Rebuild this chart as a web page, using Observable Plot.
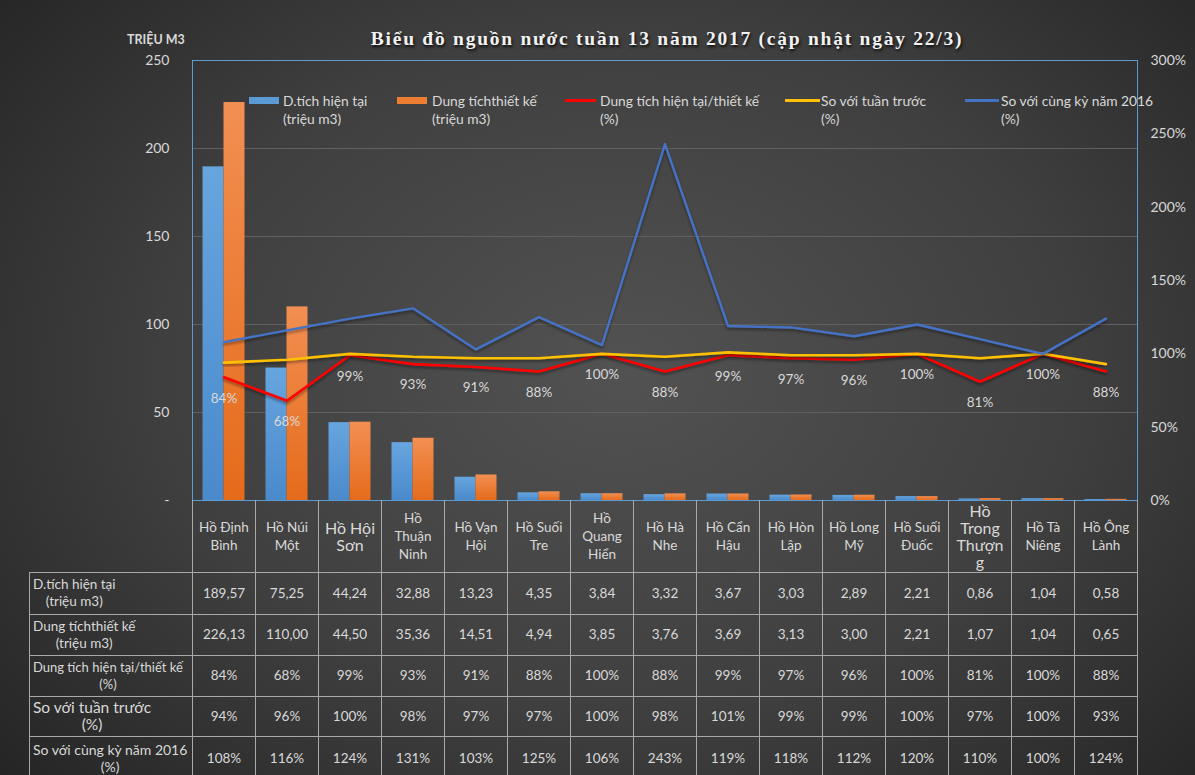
<!DOCTYPE html>
<html><head><meta charset="utf-8">
<script src="https://cdn.jsdelivr.net/npm/d3@7"></script>
<script src="https://cdn.jsdelivr.net/npm/@observablehq/plot@0.6"></script>
<style>
html,body{margin:0;padding:0;background:#2a2a2a;}
#wrap{position:relative;width:1195px;height:775px;overflow:hidden;
 background: radial-gradient(ellipse 70% 80% at 52% 48%, #525252 0%, #3f3f3f 55%, #242424 100%);
 font-family: Lato, "Open Sans", sans-serif; color:#d9d9d9;}
#chart{position:absolute;left:0;top:0;}
#title{position:absolute;left:0;width:1334px;top:28px;text-align:center;font-family:"Liberation Serif","DejaVu Serif",serif;font-weight:bold;font-size:19.5px;letter-spacing:1.75px;color:#f2f2f2;text-shadow:1px 2px 3px rgba(0,0,0,0.85);}
#unit{position:absolute;left:127px;top:32px;font-weight:bold;font-size:12.5px;color:#d9d9d9;}
.lg{position:absolute;top:92px;font-size:13.8px;line-height:18px;color:#d9d9d9;white-space:nowrap;}
.sw{position:absolute;}
table{position:absolute;left:29px;top:500px;border-collapse:collapse;table-layout:fixed;width:1108px;font-size:13.5px;color:#d9d9d9;}
td{border:1px solid #a9a9a9;text-align:center;vertical-align:middle;padding:0;line-height:17px;}
td.rl{text-align:left;padding-left:3px;white-space:nowrap;}
td.rl div{display:inline-block;text-align:center;}
tr.hd td{border-top:none;}
td.blank{border:none;}
</style></head>
<body>
<div id="wrap">
  <div id="chart"></div>
  <div id="title">Biểu đồ nguồn nước tuần 13 năm 2017 (cập nhật ngày 22/3)</div>
  <div id="unit">TRIỆU M3</div>
  <div id="legend"></div>
  <table id="tbl"></table>
</div>
<script>
// ---- data ----
const categories = ["Hồ Định Bình","Hồ Núi Một","Hồ Hội Sơn","Hồ Thuận Ninh","Hồ Vạn Hội","Hồ Suối Tre","Hồ Quang Hiển","Hồ Hà Nhe","Hồ Cẩn Hậu","Hồ Hòn Lập","Hồ Long Mỹ","Hồ Suối Đuốc","Hồ Trong Thượng","Hồ Tà Niêng","Hồ Ông Lành"];
const categoryLabels = ["Hồ Định\nBình","Hồ Núi\nMột","Hồ Hội\nSơn","Hồ\nThuận\nNinh","Hồ Vạn\nHội","Hồ Suối\nTre","Hồ\nQuang\nHiển","Hồ Hà\nNhe","Hồ Cẩn\nHậu","Hồ Hòn\nLập","Hồ Long\nMỹ","Hồ Suối\nĐuốc","Hồ\nTrong\nThượn\ng","Hồ Tà\nNiêng","Hồ Ông\nLành"];
const currentVolume = [189.57,75.25,44.24,32.88,13.23,4.35,3.84,3.32,3.67,3.03,2.89,2.21,0.86,1.04,0.58];
const designVolume = [226.13,110.00,44.50,35.36,14.51,4.94,3.85,3.76,3.69,3.13,3.00,2.21,1.07,1.04,0.65];
const ratioPct = [84,68,99,93,91,88,100,88,99,97,96,100,81,100,88];
const vsLastWeekPct = [94,96,100,98,97,97,100,98,101,99,99,100,97,100,93];
const vsLastYearPct = [108,116,124,131,103,125,106,243,119,118,112,120,110,100,124];
const leftTicks = [0,50,100,150,200,250];
const rightTicksPct = [0,50,100,150,200,250,300];
const seriesNames = [
  ["D.tích hiện tại","(triệu m3)"],
  ["Dung tíchthiết kế","(triệu m3)"],
  ["Dung tích hiện tại/thiết kế","(%)"],
  ["So với tuần trước","(%)"],
  ["So với cùng kỳ năm 2016","(%)"]
];

// ---- styling ----
const C = {blue:"#5b9bd5", orange:"#ed7d31", red:"#ff0000", yellow:"#ffc000", navy:"#4472c4"};
const pctToY = 250/300; // right axis 300% == left axis 250
const rows = categories.map((c,i)=>({cat:c, cur:currentVolume[i], des:designVolume[i], ratio:ratioPct[i], week:vsLastWeekPct[i], year:vsLastYearPct[i]}));
const fmt = v => v.toFixed(2).replace(".", ",");

const chart = Plot.plot({
  width:1195, height:500, marginTop:60, marginBottom:0, marginLeft:192, marginRight:58,
  style:{background:"transparent", color:"#d9d9d9", fontFamily:"Lato, sans-serif", fontSize:"14px", overflow:"visible"},
  x:{domain:categories, padding:0, axis:null},
  y:{domain:[0,250], axis:null},
  marks:[
    Plot.ruleY([50,100,150,200], {stroke:"#606060", strokeWidth:1}),
    Plot.axisY({ticks:leftTicks, tickSize:0, tickPadding:23, tickFormat:d=>d===0?"-":d, fontSize:14, fill:"#d9d9d9"}),
    Plot.axisY({anchor:"right", ticks:rightTicksPct.map(p=>p*pctToY), tickSize:0, tickPadding:13, tickFormat:v=>Math.round(v/pctToY)+"%", fontSize:14, fill:"#d9d9d9"}),
    Plot.barY(rows, {x:"cat", y:"cur", fill:"url(#gBlue)", insetLeft:10.5, insetRight:31.5}),
    Plot.barY(rows, {x:"cat", y:"des", fill:"url(#gOrange)", insetLeft:31.5, insetRight:10.5}),
    Plot.line(rows, {x:"cat", y:d=>d.ratio*pctToY, stroke:C.red, strokeWidth:2.6}),
    Plot.line(rows, {x:"cat", y:d=>d.week*pctToY, stroke:C.yellow, strokeWidth:2.6}),
    Plot.line(rows, {x:"cat", y:d=>d.year*pctToY, stroke:C.navy, strokeWidth:2.4}),
    Plot.text(rows, {x:"cat", y:d=>d.ratio*pctToY, text:d=>d.ratio+"%", dy:21, fill:"#d9d9d9", fontSize:13.5}),
    Plot.frame({stroke:"#5b9bd5", strokeWidth:1})
  ]
});
const svg = d3.select(chart);
const defs = svg.insert("defs", ":first-child");
function grad(id, top, bottom){
  const g = defs.append("linearGradient").attr("id", id).attr("x1",0).attr("y1",0).attr("x2",0).attr("y2",1);
  g.append("stop").attr("offset","0%").attr("stop-color", top);
  g.append("stop").attr("offset","100%").attr("stop-color", bottom);
}
grad("gBlue", "#67a5df", "#4a8acb");
grad("gOrange", "#f28f52", "#e56b1b");
const f = defs.append("filter").attr("id","lineShadow").attr("x","-5%").attr("y","-20%").attr("width","110%").attr("height","140%");
f.append("feDropShadow").attr("dx",0).attr("dy",2).attr("stdDeviation",1.5).attr("flood-color","#000").attr("flood-opacity",0.45);
svg.selectAll("g[aria-label='line']").attr("filter","url(#lineShadow)");
document.getElementById("chart").appendChild(chart);

// ---- legend ----
const legend = document.getElementById("legend");
const legendItems = [
  {type:"bar", color:C.blue, sx:249, sw:30, tx:283},
  {type:"bar", color:C.orange, sx:397, sw:30, tx:432},
  {type:"line", color:C.red, sx:565, sw:31, tx:600},
  {type:"line", color:C.yellow, sx:785, sw:35, tx:821},
  {type:"line", color:C.navy, sx:965, sw:34, tx:1001}
];
legendItems.forEach((it, i)=>{
  const s = document.createElement("div");
  s.className = "sw";
  s.style.left = it.sx+"px"; s.style.width = it.sw+"px";
  s.style.background = it.color;
  if (it.type==="bar"){ s.style.top="97px"; s.style.height="7px"; }
  else { s.style.top="99px"; s.style.height="2.5px"; }
  legend.appendChild(s);
  const t = document.createElement("div");
  t.className = "lg"; t.style.left = it.tx+"px";
  t.innerHTML = seriesNames[i].join("<br>");
  legend.appendChild(t);
});

// ---- data table ----
const tbl = document.getElementById("tbl");
const big = new Set(["Hồ Hội Sơn","Hồ Trong Thượng"]);
let html = '<colgroup><col style="width:163px">' + categories.map(()=>'<col style="width:63px">').join("") + '</colgroup>';
html += '<tr class="hd" style="height:72px"><td class="blank"></td>' + categories.map((c,i)=>
  `<td style="font-size:${big.has(c)?16:13.5}px;line-height:${big.has(c)?17:18}px">${categoryLabels[i].replace(/\n/g,"<br>")}</td>`).join("") + '</tr>';
const tableRows = [
  {h:42, label:seriesNames[0], fs:13.5, vals:currentVolume.map(fmt)},
  {h:41, label:seriesNames[1], fs:13.5, vals:designVolume.map(fmt)},
  {h:41, label:seriesNames[2], fs:13, vals:ratioPct.map(v=>v+"%")},
  {h:40, label:seriesNames[3], fs:15.5, vals:vsLastWeekPct.map(v=>v+"%")},
  {h:44, label:seriesNames[4], fs:14, vals:vsLastYearPct.map(v=>v+"%")}
];
tableRows.forEach(r=>{
  html += `<tr style="height:${r.h}px"><td class="rl"><div style="font-size:${r.fs}px">${r.label.join("<br>")}</div></td>` +
    r.vals.map(v=>`<td>${v}</td>`).join("") + '</tr>';
});
tbl.innerHTML = html;
</script>
</body></html>
